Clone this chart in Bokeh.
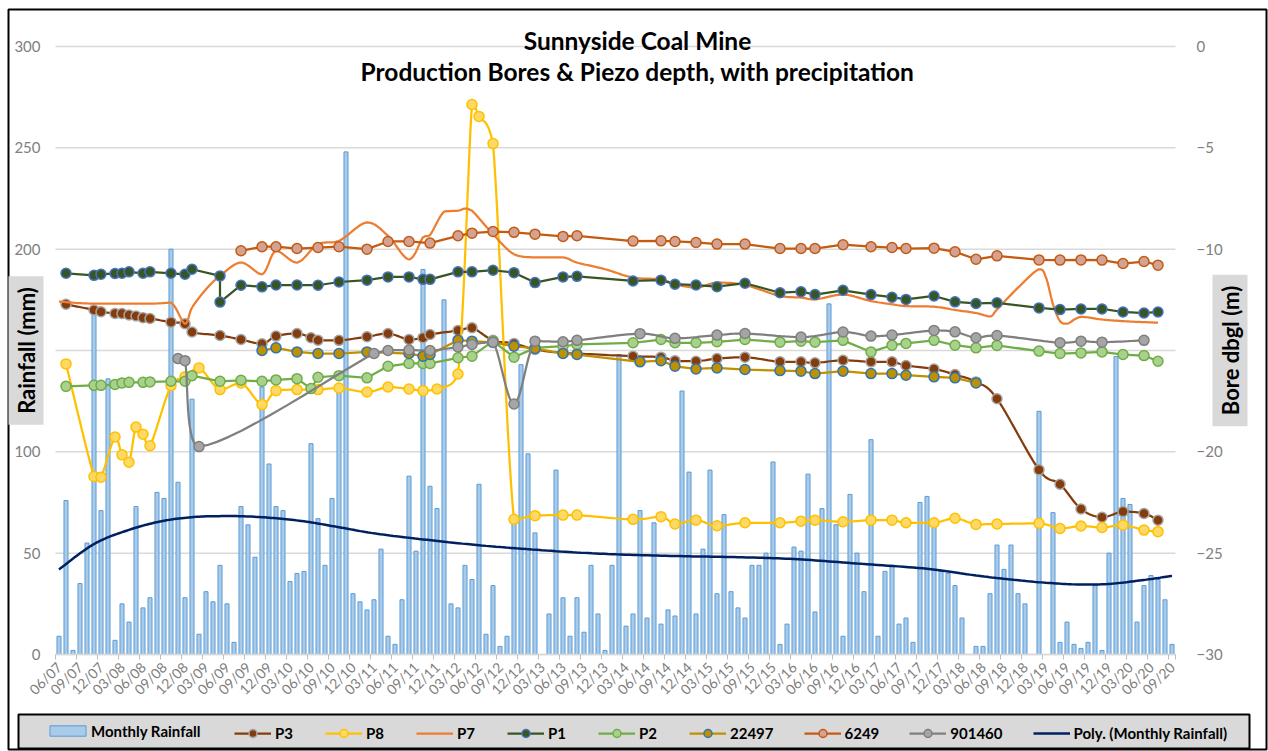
import math
import numpy as np
from bokeh.plotting import figure
from bokeh.models import Range1d, LinearAxis, FixedTicker, Label, Legend, LegendItem
from bokeh.embed import file_html
from bokeh.resources import INLINE

# ---------------- data ----------------
tick_labels = ["06/07", "09/07", "12/07", "03/08", "06/08", "09/08", "12/08", "03/09", "06/09",
               "09/09", "12/09", "03/10", "06/10", "09/10", "12/10", "03/11", "06/11", "09/11",
               "12/11", "03/12", "06/12", "09/12", "12/12", "03/13", "06/13", "09/13", "12/13",
               "03/14", "06/14", "09/14", "12/14", "03/15", "06/15", "09/15", "12/15", "03/16",
               "06/16", "09/16", "12/16", "03/17", "06/17", "09/17", "12/17", "03/18", "06/18",
               "09/18", "12/18", "03/19", "06/19", "09/19", "12/19", "03/20", "06/20", "09/20"]
rain_ticks = [0, 50, 100, 150, 200, 250, 300]
depth_ticks = [-30, -25, -20, -15, -10, -5, 0]

# monthly rainfall (mm), one value per month from 06/07 to 09/20
rainfall = [9, 76, 2, 35, 55, 170, 71, 136, 7, 25, 16, 73, 23, 28, 80, 77, 200, 85, 28, 126,
            10, 31, 26, 44, 25, 6, 73, 64, 48, 132, 94, 73, 71, 36, 40, 41, 104, 67, 44, 77,
            130, 248, 30, 26, 22, 27, 52, 9, 5, 27, 88, 51, 190, 83, 72, 175, 25, 23, 44, 37,
            84, 10, 34, 4, 9, 68, 143, 99, 60, 0, 20, 91, 28, 9, 28, 11, 44, 20, 2, 44,
            148, 14, 20, 71, 18, 65, 15, 22, 19, 130, 90, 20, 52, 91, 30, 69, 31, 23, 18, 44,
            44, 50, 95, 5, 15, 53, 51, 89, 21, 72, 173, 64, 9, 79, 50, 31, 106, 9, 41, 44,
            15, 18, 6, 75, 78, 66, 41, 40, 34, 18, 0, 4, 4, 30, 54, 42, 54, 30, 25, 0,
            120, 0, 70, 6, 16, 5, 3, 6, 34, 2, 50, 147, 77, 74, 16, 34, 39, 37, 27, 5]

# polynomial trend of the monthly rainfall (month index, mm)
trend_month = [0, 5, 10, 15, 20, 25, 30, 35, 40, 45, 52, 61, 71, 79, 88, 97, 105, 114, 124,
               131, 136, 141, 146, 150, 155, 159]
trend_value = [42, 54.5, 61.5, 66, 68, 68.3, 67.5, 65.7, 62.8, 59.8, 56.8, 53.6, 51.0, 49.5,
               48.6, 48.0, 47.1, 44.9, 42.3, 39.0, 37.0, 35.4, 34.5, 34.8, 36.8, 38.8]

# bore depths (m below ground), month index counted from 06/07
p3_month = [1, 5, 6, 8, 9, 10, 11, 12, 13, 16, 18, 19, 23, 26, 29, 31, 34, 36, 37, 40,
            44, 47, 50, 52, 53, 57, 59, 62, 65, 68, 72, 74, 82, 86, 88, 91, 94, 98, 103, 106,
            108, 112, 116, 119, 121, 125, 128, 131, 134, 140, 143, 146, 149, 152, 155, 157]
p3_depth = [-12.72, -13.0, -13.09, -13.17, -13.18, -13.25, -13.3, -13.38, -13.42, -13.6,
            -13.68, -14.09, -14.26, -14.46, -14.67, -14.29, -14.16, -14.37, -14.49, -14.5,
            -14.32, -14.16, -14.46, -14.37, -14.21, -14.01, -13.88, -14.5, -14.65, -14.95,
            -15.12, -15.15, -15.28, -15.33, -15.5, -15.53, -15.4, -15.33, -15.56, -15.56,
            -15.61, -15.48, -15.56, -15.56, -15.74, -15.91, -16.19, -16.55, -17.38, -20.89,
            -21.6, -22.82, -23.23, -22.95, -23.04, -23.37]

p8_month = [1, 5, 6, 8, 9, 10, 11, 12, 13, 16, 18, 20, 23, 26, 29, 31, 34, 37, 40, 44,
            47, 50, 52, 54, 57, 59, 60, 62, 65, 68, 72, 74, 82, 86, 88, 91, 94, 98, 103, 106,
            108, 112, 116, 119, 121, 125, 128, 131, 134, 140, 143, 146, 149, 152, 155, 157]
p8_depth = [-15.66, -21.22, -21.25, -19.27, -20.15, -20.51, -18.78, -19.13, -19.7, -16.73,
            -16.3, -15.86, -16.93, -16.6, -17.67, -16.98, -16.93, -16.93, -16.85, -17.05,
            -16.8, -16.9, -16.98, -16.9, -16.16, -2.86, -3.45, -4.79, -23.33, -23.15,
            -23.12, -23.12, -23.33, -23.2, -23.56, -23.37, -23.65, -23.5, -23.5, -23.42,
            -23.37, -23.45, -23.37, -23.37, -23.5, -23.5, -23.28, -23.58, -23.56, -23.53,
            -23.78, -23.66, -23.73, -23.61, -23.86, -23.94]

p7_month = [0, 5, 13, 16, 18, 19, 21, 23, 26, 29, 31, 34, 37, 40, 44, 47, 50, 52, 53, 55,
            57, 58, 59, 62, 65, 68, 72, 74, 78, 82, 86, 88, 91, 94, 98, 103, 106, 108, 112, 116,
            119, 121, 125, 128, 131, 133, 134, 137, 140, 141, 142, 143, 144, 146, 149, 152, 155, 157]
p7_depth = [-12.59, -12.69, -12.69, -12.64, -13.68, -12.89, -11.98, -11.32, -10.66, -11.24,
            -10.08, -10.66, -9.75, -9.59, -8.68, -9.34, -10.5, -9.42, -9.3, -8.15,
            -8.1, -8.0, -8.1, -9.26, -10.25, -10.41, -10.41, -10.66, -10.99, -11.4,
            -11.49, -11.73, -11.9, -11.65, -11.77, -12.31, -12.39, -12.48, -12.24, -12.56,
            -12.72, -12.81, -12.84, -13.0, -13.15, -13.32, -12.98, -11.9, -10.99, -11.4,
            -12.72, -13.55, -13.68, -13.34, -13.47, -13.55, -13.6, -13.63]

p1_month = [1, 5, 6, 8, 9, 10, 12, 13, 16, 18, 19, 23, 23, 26, 29, 31, 34, 37, 40, 44,
            47, 50, 52, 53, 57, 59, 62, 65, 68, 72, 74, 82, 86, 88, 91, 94, 98, 103, 106, 108,
            112, 116, 119, 121, 125, 128, 131, 134, 140, 143, 146, 149, 152, 155, 157]
p1_depth = [-11.19, -11.29, -11.24, -11.2, -11.19, -11.12, -11.19, -11.12, -11.19, -11.24,
            -10.99, -11.32, -12.61, -11.78, -11.86, -11.77, -11.77, -11.78, -11.62, -11.53,
            -11.37, -11.37, -11.49, -11.49, -11.12, -11.12, -11.04, -11.16, -11.65, -11.37,
            -11.34, -11.57, -11.53, -11.73, -11.77, -11.85, -11.68, -12.15, -12.1, -12.24,
            -12.03, -12.24, -12.37, -12.48, -12.31, -12.6, -12.68, -12.65, -12.9, -12.98,
            -12.95, -12.95, -13.1, -13.15, -13.1]

p2_month = [1, 5, 6, 8, 9, 10, 12, 13, 16, 18, 19, 23, 26, 29, 31, 34, 36, 37, 40, 44,
            47, 50, 52, 53, 57, 59, 62, 65, 68, 72, 74, 82, 86, 88, 91, 94, 98, 103, 106, 108,
            112, 116, 119, 121, 125, 128, 131, 134, 140, 143, 146, 149, 152, 155, 157]
p2_depth = [-16.77, -16.72, -16.72, -16.68, -16.6, -16.57, -16.57, -16.55, -16.52, -16.52,
            -16.24, -16.52, -16.47, -16.52, -16.45, -16.39, -16.88, -16.32, -16.24, -16.35,
            -15.78, -15.64, -15.64, -15.64, -15.36, -15.28, -14.54, -15.33, -14.87, -14.79,
            -14.7, -14.62, -14.46, -14.62, -14.62, -14.57, -14.46, -14.59, -14.54, -14.59,
            -14.5, -15.07, -14.74, -14.65, -14.5, -14.74, -14.87, -14.75, -15.03, -15.15,
            -15.12, -15.07, -15.2, -15.25, -15.53]

b22497_month = [29, 31, 34, 37, 40, 44, 50, 52, 53, 57, 59, 62, 65, 68, 72, 74, 83, 86, 88, 91,
                94, 98, 103, 106, 108, 112, 116, 119, 121, 125, 128, 131]
b22497_depth = [-15.0, -14.87, -15.07, -15.15, -15.15, -15.07, -15.15, -15.28, -15.2, -14.49,
                -14.54, -14.6, -14.79, -14.9, -15.15, -15.2, -15.56, -15.5, -15.78, -15.91,
                -15.86, -15.94, -15.99, -16.02, -16.14, -16.02, -16.14, -16.14, -16.22, -16.3,
                -16.35, -16.6]

b6249_month = [26, 29, 31, 34, 37, 40, 44, 47, 50, 53, 57, 59, 62, 65, 68, 72, 74, 82, 86, 88,
               91, 94, 98, 103, 106, 108, 112, 116, 119, 121, 125, 128, 131, 134, 140, 143, 146,
               149, 152, 155, 157]
b6249_depth = [-10.08, -9.88, -9.88, -9.97, -9.92, -9.88, -10.0, -9.62, -9.62, -9.7,
               -9.34, -9.21, -9.13, -9.17, -9.26, -9.37, -9.34, -9.6, -9.59, -9.62,
               -9.67, -9.75, -9.75, -9.97, -9.97, -9.97, -9.78, -9.88, -9.92, -9.97,
               -9.95, -10.13, -10.5, -10.33, -10.53, -10.54, -10.53, -10.54, -10.71, -10.61,
               -10.79]

b901460_month = [17, 18, 20, 45, 47, 50, 53, 57, 59, 62, 65, 68, 72, 74, 83, 88, 94, 98, 106, 112,
                 116, 119, 125, 128, 131, 134, 143, 146, 149, 155]
b901460_depth = [-15.4, -15.5, -19.74, -15.15, -15.0, -14.98, -15.0, -14.83, -14.7, -14.59,
                 -17.64, -14.54, -14.57, -14.5, -14.17, -14.4, -14.24, -14.16, -14.34, -14.09,
                 -14.29, -14.24, -14.01, -14.08, -14.37, -14.26, -14.62, -14.54, -14.59, -14.5]

FONT = "Lato"
GRAY_TXT = "#808080"

# ---------------- layout (pixels of the 1268x751 picture) ----------------
W, H = 1268, 751
PX_L, PX_R, PX_T, PX_B = 55, 1175, 46, 654          # edges of the plot area
n_months = len(rainfall)
MPP = n_months / (PX_R - PX_L)                       # months per pixel
RPP = rain_ticks[-1] / (PX_B - PX_T)                 # mm per pixel
DPP = (depth_ticks[-1] - depth_ticks[0]) / (PX_B - PX_T)


def X(px):
    return -0.5 + (px - PX_L) * MPP


def Y(py):
    return (PX_B - py) * RPP


def smooth(xs, ys, n=14):
    """Excel-like smoothed line (Bezier through the data points, no big overshoot)."""
    xs = np.asarray(xs, float)
    ys = np.asarray(ys, float)
    pts = np.column_stack([xs, ys])
    pts = np.vstack([pts[0], pts, pts[-1]])
    t = np.linspace(0.0, 1.0, n, endpoint=False)[:, None]
    out = []
    for k in range(len(xs) - 1):
        p0, p1, p2, p3 = pts[k], pts[k + 1], pts[k + 2], pts[k + 3]
        lo = np.minimum(p1, p2)
        hi = np.maximum(p1, p2)
        c1 = np.clip(p1 + (p2 - p0) / 6.0, lo, hi)
        c2 = np.clip(p2 - (p3 - p1) / 6.0, lo, hi)
        seg = ((1 - t) ** 3) * p1 + 3 * ((1 - t) ** 2) * t * c1 + 3 * (1 - t) * t ** 2 * c2 + t ** 3 * p2
        out.append(seg)
    out.append(pts[-2][None, :])
    arr = np.vstack(out)
    return arr[:, 0], arr[:, 1]


months = np.arange(n_months)

p = figure(width=W, height=H, output_backend="svg", toolbar_location=None,
           x_axis_location=None, y_axis_location=None,
           x_range=Range1d(X(0), X(W)), y_range=Range1d(Y(H), Y(0)), min_border=0)
p.extra_y_ranges = {"depth": Range1d(depth_ticks[0] - (H - PX_B) * DPP, depth_ticks[-1] + PX_T * DPP)}
p.outline_line_color = None
p.background_fill_color = "white"
p.border_fill_color = "white"
p.grid.visible = False

x_lo, x_hi = -0.5, n_months - 0.5

# chart border
p.quad(left=[X(8)], right=[X(1266)], bottom=[Y(749)], top=[Y(9)],
       fill_color=None, line_color="black", line_width=2)

# horizontal gridlines
p.segment(x0=[x_lo] * len(rain_ticks), x1=[x_hi] * len(rain_ticks), y0=rain_ticks, y1=rain_ticks,
          line_color="#D9D9D9", line_width=1.5)

# ---- axes (fixed at the plot-area edges) ----
label_pos = [3 * k for k in range(len(tick_labels))]
bounds = [b - 0.5 for b in range(0, n_months + 1, 3)] + [n_months - 0.5]
xax = LinearAxis(fixed_location=0, bounds=(x_lo, x_hi),
                 ticker=FixedTicker(ticks=label_pos, minor_ticks=bounds))
xax.major_label_overrides = {pos: lab for pos, lab in zip(label_pos, tick_labels)}
xax.major_label_orientation = math.pi / 4
xax.major_tick_line_color = None
xax.major_tick_out = 0
xax.major_tick_in = 0
xax.minor_tick_line_color = "#BFBFBF"
xax.minor_tick_out = 5
xax.minor_tick_in = 0
xax.axis_line_color = "#D9D9D9"
xax.axis_line_width = 1.5
xax.major_label_standoff = 5
xax.major_label_text_font = FONT
xax.major_label_text_font_size = "14px"
xax.major_label_text_color = GRAY_TXT
p.add_layout(xax, "below")

yax = LinearAxis(fixed_location=x_lo, bounds=(rain_ticks[0], rain_ticks[-1]),
                 ticker=FixedTicker(ticks=rain_ticks))
yax.major_label_overrides = {150: ""}
yax.axis_line_color = None
yax.major_tick_line_color = None
yax.minor_tick_line_color = None
yax.major_tick_out = 0
yax.major_tick_in = 0
yax.major_label_standoff = 15
yax.major_label_text_font = FONT
yax.major_label_text_font_size = "15px"
yax.major_label_text_color = GRAY_TXT
p.add_layout(yax, "left")

rax = LinearAxis(y_range_name="depth", fixed_location=x_hi, bounds=(depth_ticks[0], depth_ticks[-1]),
                 ticker=FixedTicker(ticks=depth_ticks))
rax.major_label_overrides = {-15: ""}
rax.axis_line_color = None
rax.major_tick_line_color = None
rax.minor_tick_line_color = None
rax.major_tick_out = 0
rax.major_tick_in = 0
rax.major_label_standoff = 21
rax.major_label_text_align = "center"
rax.major_label_text_font = FONT
rax.major_label_text_font_size = "15px"
rax.major_label_text_color = GRAY_TXT
p.add_layout(rax, "right")

# ---- rainfall bars ----
bars = p.vbar(x=months, top=rainfall, width=0.58, fill_color="#A9CBEA",
              line_color="#5B9BD5", line_width=1)


def series(mx, dy, line_col, fill_col, edge_col, smooth_line, markers=True):
    if smooth_line:
        sx, sy = smooth(mx, dy)
    else:
        sx, sy = mx, dy
    ln = p.line(sx, sy, line_color=line_col, line_width=2.25, y_range_name="depth")
    rs = [ln]
    if markers:
        mk = p.scatter(mx, dy, marker="circle", size=10, fill_color=fill_col,
                       line_color=edge_col, line_width=1.5, y_range_name="depth")
        rs.append(mk)
    return rs


r_p3 = series(p3_month, p3_depth, "#843C0C", "#843C0C", "#A5A5A5", True)
r_p8 = series(p8_month, p8_depth, "#FFC000", "#FFD966", "#FFC000", True)
r_p7 = series(p7_month, p7_depth, "#ED7D31", None, None, True, markers=False)
r_p1 = series(p1_month, p1_depth, "#375623", "#375623", "#4472C4", False)
r_p2 = series(p2_month, p2_depth, "#70AD47", "#A9D18E", "#70AD47", False)
r_22497 = series(b22497_month, b22497_depth, "#BF9000", "#BF9000", "#2E75B6", False)
r_6249 = series(b6249_month, b6249_depth, "#C55A11", "#D2A294", "#C55A11", False)
r_901460 = series(b901460_month, b901460_depth, "#7F7F7F", "#A5A5A5", "#7F7F7F", True)

tx, ty = smooth(trend_month, trend_value)
trend = p.line(tx, ty, line_color="#002060", line_width=2.5)

# ---- titles ----
for txt, py in [("Sunnyside Coal Mine", 40), ("Production Bores & Piezo depth, with precipitation", 71)]:
    p.add_layout(Label(x=X(637), y=Y(py), text=txt, text_align="center", text_baseline="middle",
                       text_font=FONT, text_font_style="bold", text_font_size="24.5px",
                       text_color="black"))

for txt, px in [("Rainfall (mm)", 25.5), ("Bore dbgl (m)", 1229.5)]:
    p.add_layout(Label(x=X(px), y=Y(350), text=txt, angle=math.pi / 2,
                       text_align="center", text_baseline="middle", text_font=FONT,
                       text_font_style="bold", text_font_size="22px", text_color="black",
                       background_fill_color="#D9D9D9", padding=(11, 4)))

# ---- legend ----
p.quad(left=[X(18)], right=[X(1249)], bottom=[Y(748)], top=[Y(714)],
       fill_color="#D9D9D9", line_color="black", line_width=2)


def style_legend(lg, gw, gh, standoff):
    lg.background_fill_alpha = 0
    lg.border_line_color = None
    lg.padding = 2
    lg.margin = 0
    lg.glyph_width = gw
    lg.glyph_height = gh
    lg.label_height = gh
    lg.label_standoff = standoff
    lg.label_text_font = FONT
    lg.label_text_font_style = "bold"
    lg.label_text_font_size = "15px"
    lg.label_text_color = "black"


leg1 = Legend(items=[LegendItem(label="Monthly Rainfall", renderers=[bars])],
              orientation="horizontal", location=(45, H - 731 - 8.5))
style_legend(leg1, 45, 13, 1)
p.add_layout(leg1)

leg2 = Legend(items=[
    LegendItem(label="P3", renderers=r_p3),
    LegendItem(label="P8", renderers=r_p8),
    LegendItem(label="P7", renderers=r_p7),
    LegendItem(label="P1", renderers=r_p1),
    LegendItem(label="P2", renderers=r_p2),
    LegendItem(label="22497", renderers=r_22497),
    LegendItem(label="6249", renderers=r_6249),
    LegendItem(label="901460", renderers=r_901460),
    LegendItem(label="Poly. (Monthly Rainfall)", renderers=[trend]),
], orientation="horizontal", location=(234, H - 731 - 12))
style_legend(leg2, 37, 20, 4)
leg2.spacing = 30
p.add_layout(leg2)

open("out.html", "w").write(file_html(p, INLINE))
